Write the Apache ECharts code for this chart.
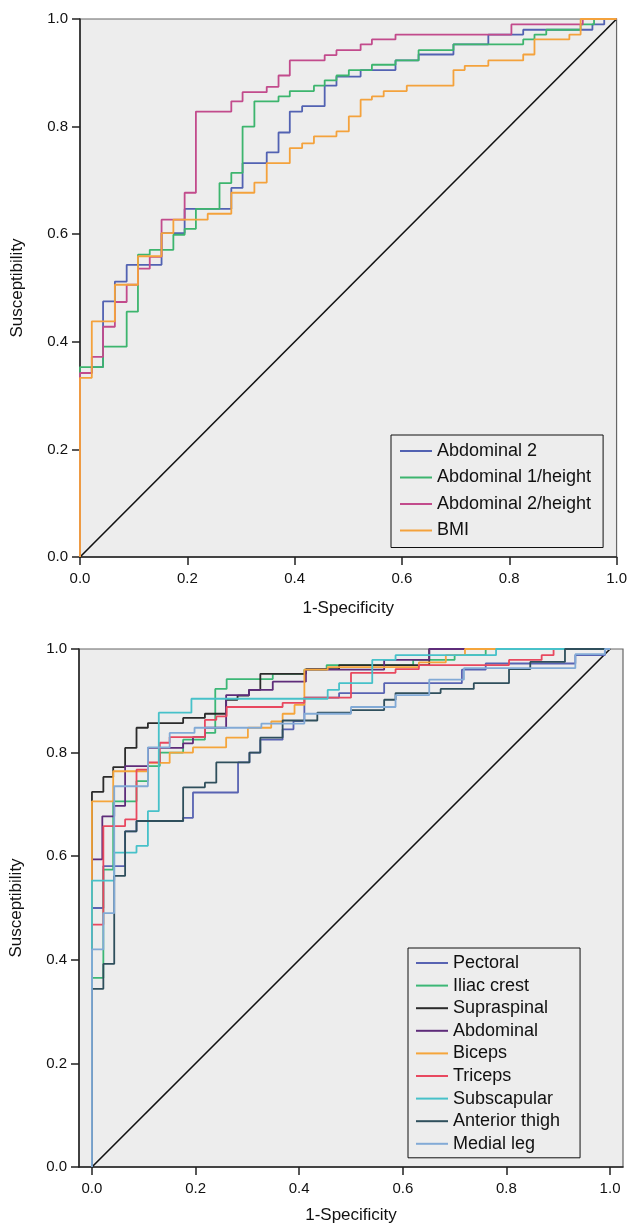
<!DOCTYPE html>
<html>
<head>
<meta charset="utf-8">
<script src="https://cdn.jsdelivr.net/npm/echarts@6/dist/echarts.min.js"></script>
<style>
html, body { margin: 0; padding: 0; background: #fff; }
#chart { width: 630px; height: 1227px; }
</style>
</head>
<body>
<div id="chart"></div>
<script>
// top panel: [1-specificity, susceptibility] at each step
var abdominal2 = [[0,0],[0,0.342],[0.022,0.353],[0.043,0.475],[0.065,0.512],[0.087,0.543],[0.152,0.602],[0.195,0.647],[0.282,0.686],[0.303,0.732],[0.348,0.752],[0.370,0.789],[0.391,0.828],[0.414,0.838],[0.456,0.876],[0.478,0.893],[0.523,0.905],[0.588,0.923],[0.631,0.934],[0.696,0.953],[0.761,0.971],[0.826,0.980],[0.955,0.990],[0.977,1.0],[1,1]];
var abdominal1Height = [[0,0],[0,0.353],[0.043,0.391],[0.087,0.456],[0.108,0.562],[0.130,0.571],[0.174,0.599],[0.195,0.610],[0.216,0.647],[0.260,0.695],[0.282,0.714],[0.303,0.800],[0.325,0.847],[0.370,0.856],[0.391,0.866],[0.436,0.876],[0.456,0.886],[0.478,0.895],[0.501,0.905],[0.544,0.915],[0.588,0.923],[0.631,0.942],[0.696,0.953],[0.826,0.962],[0.847,0.971],[0.869,0.980],[0.933,0.990],[0.958,1.0],[1,1]];
var abdominal2Height = [[0,0],[0,0.342],[0.022,0.372],[0.043,0.428],[0.065,0.474],[0.087,0.506],[0.108,0.536],[0.130,0.558],[0.152,0.627],[0.195,0.677],[0.216,0.828],[0.282,0.847],[0.303,0.864],[0.348,0.874],[0.370,0.895],[0.391,0.923],[0.456,0.933],[0.478,0.942],[0.523,0.953],[0.544,0.962],[0.588,0.971],[0.804,0.990],[0.937,1.0],[1,1]];
var bmi = [[0,0],[0,0.333],[0.022,0.438],[0.065,0.506],[0.108,0.559],[0.152,0.602],[0.174,0.627],[0.238,0.638],[0.282,0.677],[0.325,0.696],[0.348,0.732],[0.391,0.760],[0.414,0.769],[0.436,0.782],[0.478,0.791],[0.501,0.819],[0.523,0.850],[0.544,0.856],[0.566,0.866],[0.609,0.876],[0.696,0.905],[0.717,0.913],[0.761,0.923],[0.826,0.934],[0.847,0.962],[0.912,0.971],[0.933,1.0],[1,1]];

// bottom panel
var pectoral = [[0,0],[0,0.50],[0.022,0.581],[0.064,0.648],[0.086,0.668],[0.176,0.674],[0.195,0.723],[0.282,0.781],[0.304,0.800],[0.325,0.825],[0.368,0.845],[0.389,0.861],[0.410,0.906],[0.477,0.915],[0.564,0.934],[0.714,0.960],[0.760,0.972],[0.933,0.988],[0.990,1.0],[1,1]];
var iliacCrest = [[0,0],[0,0.365],[0.022,0.574],[0.041,0.706],[0.086,0.745],[0.108,0.774],[0.131,0.800],[0.176,0.825],[0.218,0.838],[0.238,0.923],[0.260,0.942],[0.349,0.952],[0.410,0.960],[0.453,0.969],[0.620,0.979],[0.700,0.988],[0.760,1.0],[1,1]];
var supraspinal = [[0,0],[0,0.724],[0.022,0.753],[0.041,0.772],[0.064,0.809],[0.086,0.848],[0.108,0.857],[0.176,0.867],[0.218,0.875],[0.259,0.902],[0.281,0.910],[0.303,0.921],[0.325,0.952],[0.413,0.961],[0.477,0.969],[0.651,1.0],[1,1]];
var abdominal = [[0,0],[0,0.594],[0.020,0.677],[0.043,0.697],[0.064,0.774],[0.108,0.809],[0.176,0.818],[0.195,0.830],[0.218,0.848],[0.259,0.911],[0.303,0.921],[0.349,0.937],[0.413,0.960],[0.564,0.979],[0.651,1.0],[1,1]];
var biceps = [[0,0],[0,0.706],[0.041,0.764],[0.108,0.780],[0.150,0.800],[0.195,0.810],[0.259,0.829],[0.301,0.848],[0.346,0.860],[0.368,0.875],[0.391,0.892],[0.410,0.960],[0.455,0.965],[0.631,0.974],[0.683,0.988],[0.720,1.0],[1,1]];
var triceps = [[0,0],[0,0.468],[0.022,0.658],[0.064,0.671],[0.086,0.767],[0.108,0.781],[0.131,0.819],[0.150,0.830],[0.218,0.863],[0.240,0.870],[0.260,0.888],[0.368,0.896],[0.410,0.906],[0.500,0.954],[0.586,0.961],[0.631,0.969],[0.805,0.979],[0.868,0.988],[0.891,1.0],[1,1]];
var subscapular = [[0,0],[0,0.553],[0.043,0.607],[0.086,0.620],[0.108,0.687],[0.129,0.877],[0.192,0.904],[0.455,0.921],[0.477,0.934],[0.541,0.979],[0.586,0.988],[0.780,1.0],[1,1]];
var anteriorThigh = [[0,0],[0,0.344],[0.022,0.392],[0.043,0.562],[0.064,0.648],[0.086,0.668],[0.176,0.733],[0.218,0.742],[0.240,0.781],[0.304,0.800],[0.325,0.829],[0.368,0.862],[0.435,0.877],[0.500,0.882],[0.564,0.902],[0.586,0.915],[0.673,0.923],[0.737,0.934],[0.805,0.961],[0.846,0.975],[0.913,1.0],[1,1]];
var medialLeg = [[0,0],[0,0.420],[0.022,0.490],[0.043,0.735],[0.108,0.810],[0.150,0.838],[0.198,0.848],[0.327,0.856],[0.410,0.875],[0.500,0.888],[0.586,0.911],[0.651,0.941],[0.718,0.963],[0.933,0.990],[0.990,1.0],[1,1]];

var reference = [[0,0],[1,1]];
var tickValues = [0, 0.2, 0.4, 0.6, 0.8, 1.0];

var topNames = ['Abdominal 2', 'Abdominal 1/height', 'Abdominal 2/height', 'BMI'];
var topData = [abdominal2, abdominal1Height, abdominal2Height, bmi];
var topColors = ['#5262b2', '#3db56e', '#c24b8c', '#f4a23c'];

var botNames = ['Pectoral', 'Iliac crest', 'Supraspinal', 'Abdominal', 'Biceps', 'Triceps', 'Subscapular', 'Anterior thigh', 'Medial leg'];
var botData = [pectoral, iliacCrest, supraspinal, abdominal, biceps, triceps, subscapular, anteriorThigh, medialLeg];
var botColors = ['#5863b2', '#3cb776', '#2b2b2b', '#5e2c7a', '#f5a53b', '#e8485f', '#47c1c9', '#2f4f5c', '#82aad6'];

var font = 'Liberation Sans, Arial, sans-serif';

function xAxisOf(idx, min, max, gap) {
    return {
        type: 'value', gridIndex: idx, min: min, max: max,
        name: '1-Specificity', nameLocation: 'middle', nameGap: gap,
        nameTextStyle: { fontSize: 17, color: '#111', fontFamily: font },
        axisLine: { show: true, onZero: false, lineStyle: { color: '#222', width: 1.5 } },
        axisTick: { show: true, length: 8, lineStyle: { color: '#222', width: 1.5 }, customValues: tickValues },
        axisLabel: { fontSize: 15, color: '#111', fontFamily: font, margin: 14, customValues: tickValues,
            formatter: function (v) { return v.toFixed(1); } },
        splitLine: { show: false }
    };
}
function yAxisOf(idx) {
    return {
        type: 'value', gridIndex: idx, min: 0, max: 1, interval: 0.2,
        name: 'Susceptibility', nameLocation: 'middle', nameGap: 54,
        nameTextStyle: { fontSize: 17, color: '#111', fontFamily: font },
        axisLine: { show: true, onZero: false, lineStyle: { color: '#222', width: 1.5 } },
        axisTick: { show: true, length: 8, lineStyle: { color: '#222', width: 1.5 } },
        axisLabel: { fontSize: 15, color: '#111', fontFamily: font, margin: 12,
            formatter: function (v) { return v.toFixed(1); } },
        splitLine: { show: false }
    };
}

var series = [];
function addCurves(names, data, colors, idx) {
    names.forEach(function (n, i) {
        series.push({
            name: n, type: 'line', step: 'end', xAxisIndex: idx, yAxisIndex: idx,
            data: data[i], symbol: 'none', silent: true,
            itemStyle: { color: colors[i] },
            lineStyle: { color: colors[i], width: 1.8 }
        });
    });
    series.push({
        name: 'ref' + idx, type: 'line', xAxisIndex: idx, yAxisIndex: idx,
        data: reference, symbol: 'none', silent: true, z: 1,
        lineStyle: { color: '#111', width: 1.6 }
    });
}
addCurves(topNames, topData, topColors, 0);
addCurves(botNames, botData, botColors, 1);

function legendOf(names, left, top, pad, gap) {
    return {
        data: names, orient: 'vertical', left: left, top: top, padding: pad,
        itemGap: gap, itemWidth: 32, itemHeight: 2, icon: 'rect', selectedMode: false,
        borderColor: '#111', borderWidth: 1, borderRadius: 0,
        textStyle: { fontSize: 18, lineHeight: 20, color: '#111', fontFamily: font }
    };
}

var option = {
    animation: false,
    grid: [
        { left: 80, top: 19, width: 539, height: 538, show: true, backgroundColor: '#ededed', borderColor: '#666', borderWidth: 1.2 },
        { left: 79, top: 649, width: 544, height: 518, show: true, backgroundColor: '#ededed', borderColor: '#666', borderWidth: 1.2 }
    ],
    xAxis: [xAxisOf(0, 0, 1, 43), xAxisOf(1, -0.025, 1.025, 40)],
    yAxis: [yAxisOf(0), yAxisOf(1)],
    legend: [
        legendOf(topNames, 391, 435, [6, 12, 7, 9], 6.5),
        legendOf(botNames, 408, 948, [5, 20, 4, 8], 2.6)
    ],
    series: series
};

var myChart = echarts.init(document.getElementById('chart'));
myChart.setOption(option);
</script>
</body>
</html>
